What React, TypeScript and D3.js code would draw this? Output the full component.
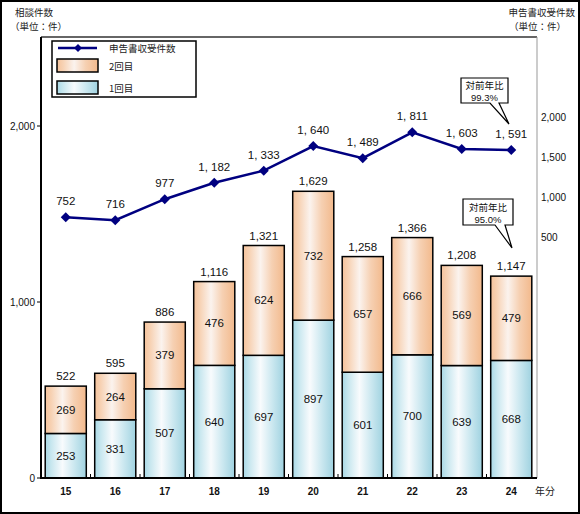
import React from "react";
import * as d3 from "d3";

const years = ["15", "16", "17", "18", "19", "20", "21", "22", "23", "24"];
const firstVisit = [253, 331, 507, 640, 697, 897, 601, 700, 639, 668];
const secondVisit = [269, 264, 379, 476, 624, 732, 657, 666, 569, 479];
const filings = [752, 716, 977, 1182, 1333, 1640, 1489, 1811, 1603, 1591];
const leftTicks = [0, 1000, 2000];
const rightTicks = [500, 1000, 1500, 2000];
const seriesNames = ["申告書収受件数", "2回目", "1回目"];
const callouts = [
  { title: "対前年比", value: "99.3%" },
  { title: "対前年比", value: "95.0%" },
];

const W = 580;
const H = 514;
const M = { left: 41, right: 537, top: 37, bottom: 478 };
const JP = "'Noto Sans CJK JP', sans-serif";
const NUM = "'Liberation Sans', Arial, sans-serif";

export default function App() {
  const x = d3
    .scaleBand<string>()
    .domain(years)
    .range([M.left, M.right - 1])
    .paddingInner(0.17)
    .paddingOuter(0.085);
  const yL = d3.scaleLinear().domain([0, 2500]).range([M.bottom, 38]);
  const yR = d3.scaleLinear().domain([-2500, 3000]).range([M.bottom, M.top]);
  const fmt = d3.format(",");
  const lineFmt = (v: number) => fmt(v).replace(",", ", ");
  const line = d3
    .line<number>()
    .x((_, i) => x(years[i])! + x.bandwidth() / 2)
    .y((d) => yR(d));
  const bw = x.bandwidth();
  const diamond = (cx: number, cy: number, r: number) =>
    `M${cx},${cy - r}L${cx + r},${cy}L${cx},${cy + r}L${cx - r},${cy}Z`;

  const boundaries = years.slice(1).map((y) => x(y)! - (x.step() - bw) / 2);

  return (
    <svg
      width={W}
      height={H}
      style={{ position: "absolute", left: 0, top: 0, background: "#fff" }}
    >
      <defs>
        <linearGradient id="gOrange" x1="0" x2="1" y1="0" y2="0">
          <stop offset="0%" stopColor="#f5c39c" />
          <stop offset="15%" stopColor="#f7d2b4" />
          <stop offset="42%" stopColor="#fbf3ee" />
          <stop offset="70%" stopColor="#f6d0b2" />
          <stop offset="100%" stopColor="#f2b98c" />
        </linearGradient>
        <linearGradient id="gBlue" x1="0" x2="1" y1="0" y2="0">
          <stop offset="0%" stopColor="#a9d9e6" />
          <stop offset="15%" stopColor="#c8e7ef" />
          <stop offset="42%" stopColor="#f8fbfd" />
          <stop offset="70%" stopColor="#cce8f0" />
          <stop offset="100%" stopColor="#9fd2e0" />
        </linearGradient>
      </defs>
      <rect x={1} y={1} width={W - 2} height={H - 2} fill="#fff" stroke="#000" strokeWidth={2} />

      {/* titles */}
      <text x={15} y={16} fontFamily={JP} fontSize={9.5} fill="#222">相談件数</text>
      <text x={10} y={30} fontFamily={JP} fontSize={9.5} fill="#222">（単位：件）</text>
      <text x={575} y={16} fontFamily={JP} fontSize={9.5} fill="#222" textAnchor="end">申告書収受件数</text>
      <text x={566} y={30} fontFamily={JP} fontSize={9.5} fill="#222" textAnchor="end">（単位：件）</text>

      {/* plot frame */}
      <line x1={M.left} x2={M.right} y1={M.top} y2={M.top} stroke="#333" strokeWidth={1.5} />
      <line x1={M.right} x2={M.right} y1={M.top} y2={M.bottom} stroke="#999" strokeWidth={1} />

      {/* bars */}
      {years.map((yr, i) => {
        const bx = x(yr)!;
        const y0 = yL(0);
        const y1 = yL(firstVisit[i]);
        const y2 = yL(firstVisit[i] + secondVisit[i]);
        return (
          <g key={yr}>
            <rect x={bx} y={y1} width={bw} height={y0 - y1} fill="url(#gBlue)" stroke="#000" strokeWidth={1.5} />
            <rect x={bx} y={y2} width={bw} height={y1 - y2} fill="url(#gOrange)" stroke="#000" strokeWidth={1.5} />
            <text x={bx + bw / 2} y={(y0 + y1) / 2 + 4} textAnchor="middle" fontFamily={NUM} fontSize={11.5} fill="#111">
              {firstVisit[i]}
            </text>
            <text x={bx + bw / 2} y={(y1 + y2) / 2 + 4} textAnchor="middle" fontFamily={NUM} fontSize={11.5} fill="#111">
              {secondVisit[i]}
            </text>
            <text x={bx + bw / 2} y={y2 - 6} textAnchor="middle" fontFamily={NUM} fontSize={11.5} fill="#111">
              {fmt(firstVisit[i] + secondVisit[i])}
            </text>
          </g>
        );
      })}

      {/* axes */}
      <line x1={M.left} x2={M.left} y1={M.top} y2={M.bottom + 1} stroke="#000" strokeWidth={2} />
      <line x1={M.left - 1} x2={M.right} y1={M.bottom} y2={M.bottom} stroke="#000" strokeWidth={2} />
      {leftTicks.map((t) => (
        <g key={t}>
          <line x1={M.left - 4} x2={M.left} y1={yL(t)} y2={yL(t)} stroke="#000" strokeWidth={1} />
          <text x={35} y={yL(t) + 4} textAnchor="end" fontFamily={NUM} fontSize={10} fill="#111">
            {fmt(t)}
          </text>
        </g>
      ))}
      {boundaries.map((b, i) => (
        <line key={i} x1={b} x2={b} y1={M.bottom} y2={M.bottom - 4} stroke="#000" strokeWidth={1} />
      ))}
      {years.map((yr) => (
        <text key={yr} x={x(yr)! + bw / 2} y={495} textAnchor="middle" fontFamily={NUM} fontSize={10} fontWeight="bold" fill="#111">
          {yr}
        </text>
      ))}
      <text x={535} y={495} fontFamily={JP} fontSize={10} fill="#222">年分</text>
      {rightTicks.map((t) => (
        <text key={t} x={541} y={yR(t) + 4} fontFamily={NUM} fontSize={10} fill="#111">
          {fmt(t)}
        </text>
      ))}

      {/* line */}
      <path d={line(filings)!} fill="none" stroke="#000080" strokeWidth={2.5} />
      {filings.map((v, i) => {
        const cx = x(years[i])! + bw / 2;
        const cy = yR(v);
        return (
          <g key={i}>
            <path d={diamond(cx, cy, 5)} fill="#000080" />
            <text x={cx} y={cy - 12} textAnchor="middle" fontFamily={NUM} fontSize={11.5} fill="#111">
              {lineFmt(v)}
            </text>
          </g>
        );
      })}

      {/* callouts */}
      <g>
        <path d="M461,78 L508,78 L508,103 L499,103 L509,124 L490,103 L461,103 Z" fill="#fff" stroke="#000" strokeWidth={1.2} />
        <text x={484.5} y={89} textAnchor="middle" fontFamily={JP} fontSize={9.5} fill="#111">{callouts[0].title}</text>
        <text x={484.5} y={101} textAnchor="middle" fontFamily={NUM} fontSize={9.5} fill="#111">{callouts[0].value}</text>
      </g>
      <g>
        <path d="M463,199 L513,199 L513,225 L505,225 L512,248 L495,225 L463,225 Z" fill="#fff" stroke="#000" strokeWidth={1.2} />
        <text x={488} y={211} textAnchor="middle" fontFamily={JP} fontSize={9.5} fill="#111">{callouts[1].title}</text>
        <text x={488} y={223} textAnchor="middle" fontFamily={NUM} fontSize={9.5} fill="#111">{callouts[1].value}</text>
      </g>

      {/* legend */}
      <rect x={52} y={41} width={144} height={56} fill="#fff" stroke="#000" strokeWidth={1.5} />
      <line x1={58} x2={97} y1={48} y2={48} stroke="#000080" strokeWidth={2.5} />
      <path d={diamond(78, 48, 4)} fill="#000080" />
      <text x={109} y={52} fontFamily={JP} fontSize={9.5} fill="#222">{seriesNames[0]}</text>
      <rect x={57} y={59} width={41} height={13} fill="url(#gOrange)" stroke="#000" strokeWidth={1.5} />
      <text x={109} y={70} fontFamily={JP} fontSize={9.5} fill="#222">{seriesNames[1]}</text>
      <rect x={57} y={81} width={41} height={13} fill="url(#gBlue)" stroke="#000" strokeWidth={1.5} />
      <text x={109} y={92} fontFamily={JP} fontSize={9.5} fill="#222">{seriesNames[2]}</text>
    </svg>
  );
}
